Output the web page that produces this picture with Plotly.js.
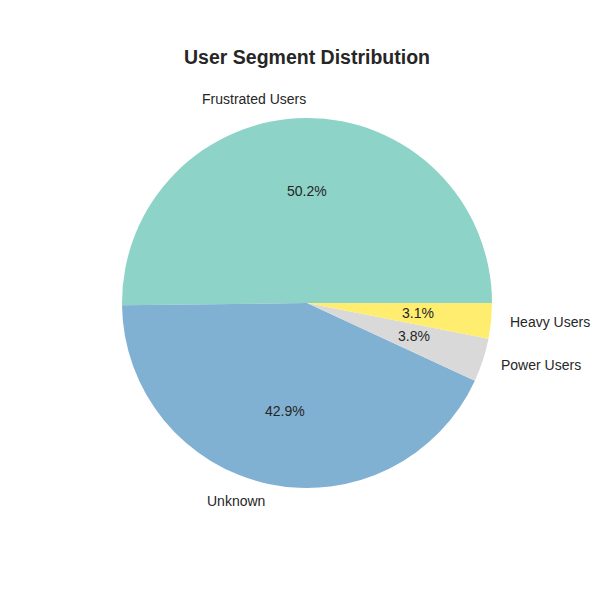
<!DOCTYPE html>
<html>
<head>
<meta charset="utf-8">
<script src="https://cdn.plot.ly/plotly-3.0.1.min.js"></script>
<style>html,body{margin:0;padding:0;background:#fff}</style>
</head>
<body>
<div id="chart" style="width:600px;height:600px"></div>
<script>
const labels = ["Frustrated Users", "Unknown", "Power Users", "Heavy Users"];
const values = [50.2, 42.9, 3.8, 3.1];
const colors = ["#8dd3c7", "#80b1d3", "#d9d9d9", "#ffed6f"];

// geometry (paper fractions, 600x600 canvas, zero margins)
const W = 600, H = 600;
const cx = 307 / W, cy = 1 - 303 / H, r = 185 / W;
const FONT = "Liberation Sans, Arial, sans-serif";

const total = values.reduce((a, b) => a + b, 0);
const annotations = [];
let start = 0;
values.forEach((v, i) => {
  const span = v / total * 360;
  const mid = (start + span / 2) * Math.PI / 180;
  start += span;
  const c = Math.cos(mid), s = Math.sin(mid);
  annotations.push({
    xref: "paper", yref: "paper",
    x: cx + 0.6 * r * c, y: cy + 0.6 * r * s,
    text: (v / total * 100).toFixed(1) + "%",
    showarrow: false, xanchor: "center", yanchor: "middle",
    xshift: 1, yshift: 1,
    font: {family: FONT, size: 14, color: "#262626"}
  });
  annotations.push({
    xref: "paper", yref: "paper",
    x: cx + 1.1 * r * c, y: cy + 1.1 * r * s,
    text: labels[i],
    showarrow: false, xanchor: c < 0 ? "right" : "left", yanchor: "middle",
    xshift: c < 0 ? 2.5 : -2, yshift: 1,
    font: {family: FONT, size: 14, color: "#262626"}
  });
});

// first slice starts at 3 o'clock and slices run counterclockwise
const firstSpan = values[0] / total * 360;

const trace = {
  type: "pie",
  labels: labels,
  values: values,
  sort: false,
  direction: "counterclockwise",
  rotation: 90 - firstSpan,
  marker: {colors: colors, line: {width: 0}},
  textinfo: "none",
  hoverinfo: "none",
  showlegend: false,
  domain: {x: [cx - r, cx + r], y: [cy - r, cy + r]}
};

const layout = {
  width: W, height: H,
  margin: {l: 0, r: 0, t: 0, b: 0},
  paper_bgcolor: "#ffffff",
  showlegend: false,
  title: {
    text: "<b>User Segment Distribution</b>",
    x: cx, xanchor: "center",
    y: 1 - 57 / H, yanchor: "middle",
    font: {family: FONT, size: 19.5, color: "#262626"}
  },
  annotations: annotations
};

Plotly.newPlot("chart", [trace], layout, {displayModeBar: false, staticPlot: true});
</script>
</body>
</html>
